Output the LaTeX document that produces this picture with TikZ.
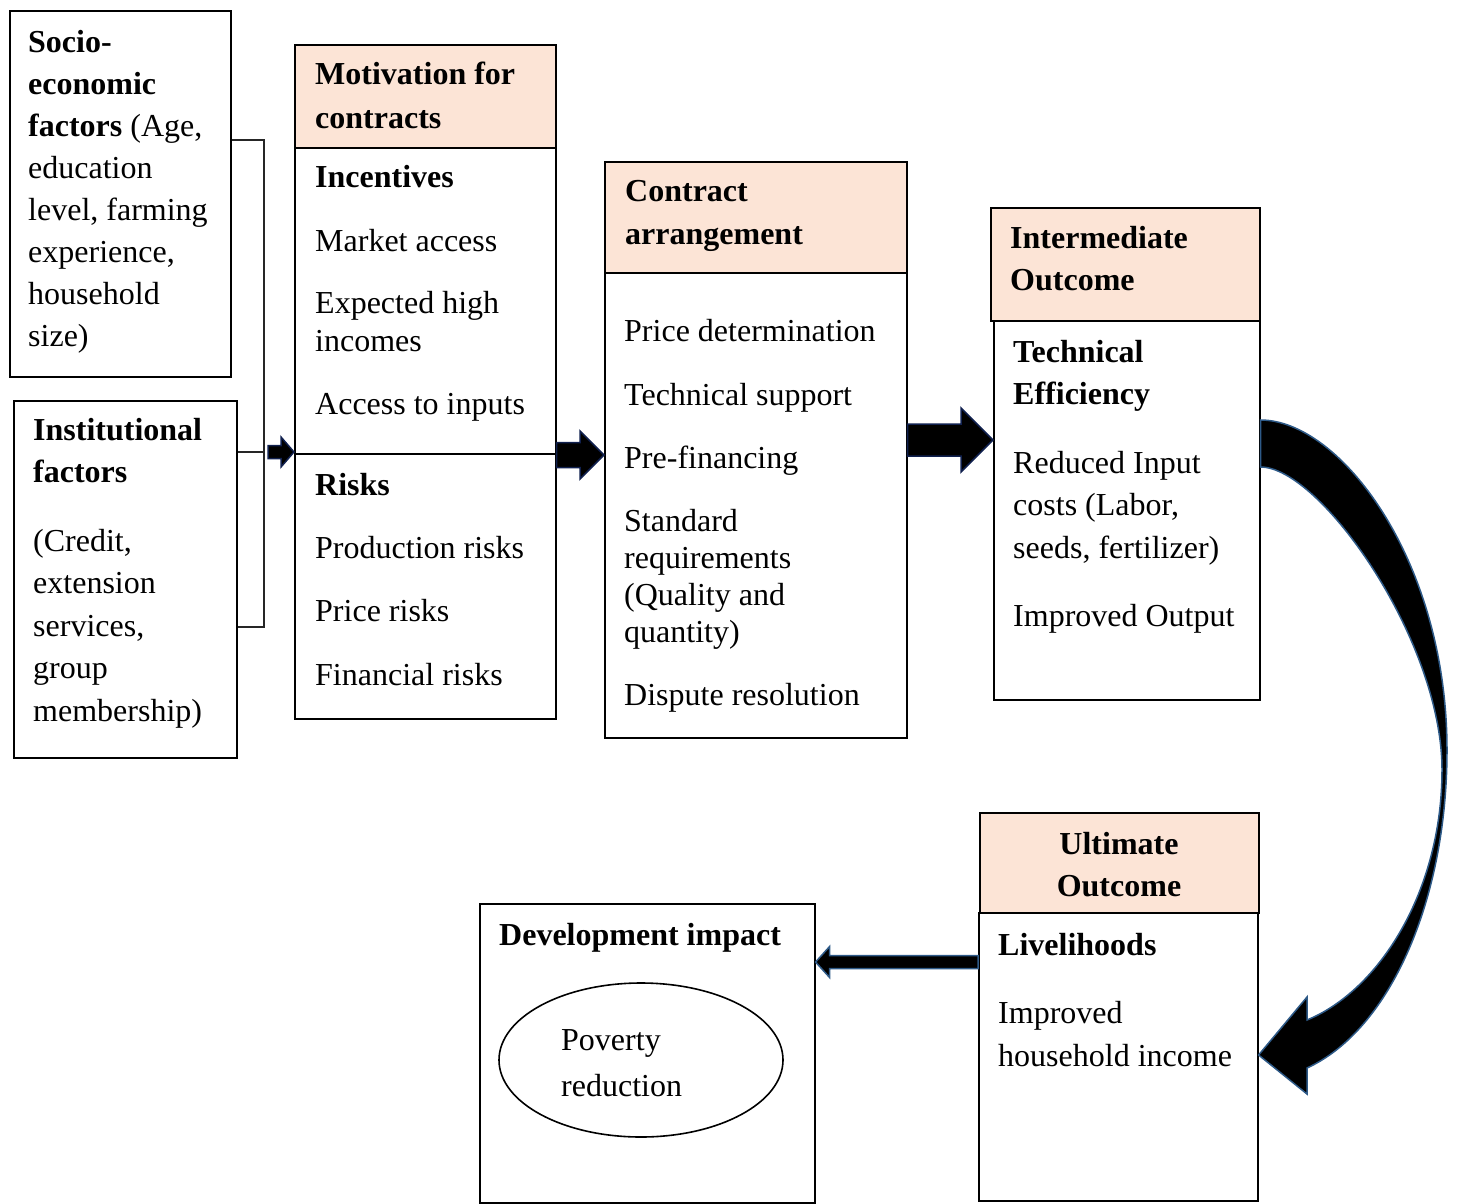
\documentclass[tikz,border=0pt]{standalone}
\usepackage{fontspec}
\setmainfont{Liberation Serif}
\usetikzlibrary{shapes.geometric,calc}
\definecolor{peach}{HTML}{FCE4D6}
\definecolor{navyo}{HTML}{10204E}
\definecolor{steel}{HTML}{2E5A88}
\newcommand\mystrut{\rule{0pt}{25pt}}
% block arrow: #1 start coord, #2 tip coord, #3 shaft half-height, #4 head half-height, #5 signed head length, #6 outline colour
\newcommand\barrow[6]{\filldraw[fill=black, draw=#6, line width=1.5pt, line join=miter] let \p1=(#1), \p2=(#2) in
 (\x1,{\y1+#3}) -- ({\x2-(#5)},{\y1+#3}) -- ({\x2-(#5)},{\y1+#4}) -- (\x2,\y1) -- ({\x2-(#5)},{\y1-#4}) -- ({\x2-(#5)},{\y1-#3}) -- (\x1,{\y1-#3}) -- cycle;}
\begin{document}
\begin{tikzpicture}[x=1pt,y=-1pt,
  box/.style={draw=black, line width=1.6pt, rectangle, inner sep=0pt, anchor=north west},
  head/.style={box, fill=peach},
  txt/.style={anchor=north west, inner sep=0pt, align=left, font=\fontsize{32}{#1}\selectfont},
  ctxt/.style={anchor=north, inner sep=0pt, align=center, font=\fontsize{32}{#1}\selectfont},
  brk/.style={draw=black!85, line width=1.3pt}]
\useasboundingbox (0,0) rectangle (1457,1203);

% boxes
\node[box, minimum width=221pt, minimum height=366pt] (soc) at (9,10) {};
\node[box, minimum width=223pt, minimum height=357pt] (inst) at (13,400) {};
\node[head, minimum width=261pt, minimum height=103pt] (moth) at (294,44) {};
\node[box, minimum width=261pt, minimum height=571pt] (motb) at (294,147) {};
\node[head, minimum width=302pt, minimum height=111pt] (conh) at (604,161) {};
\node[box, minimum width=302pt, minimum height=465pt] (conb) at (604,272) {};
\node[head, minimum width=269pt, minimum height=113pt] (inth) at (990,207) {};
\node[box, minimum width=266pt, minimum height=379pt] (intb) at (993,320) {};
\node[head, minimum width=279pt, minimum height=100pt] (ulth) at (979,812) {};
\node[box, minimum width=279pt, minimum height=288pt] (ultb) at (978,912) {};
\node[box, minimum width=335pt, minimum height=299pt] (devb) at (479,903) {};
\node[draw=black, line width=1.6pt, ellipse, inner sep=0pt, minimum width=284pt, minimum height=154pt] (pov) at (641,1060) {};

% divider in motivation box
\draw[line width=1.6pt] (motb.west |- 0,454) -- (motb.east |- 0,454);

% bracket
\coordinate (bt) at (264,140);
\coordinate (bj) at (264,452);
\coordinate (bb) at (264,627);
\draw[brk] (soc.east |- bt) -- (bt) -- (bb) -- (inst.east |- bb);
\draw[brk] (inst.east |- bj) -- (bj);

% texts
\node[txt=42] (soct) at (28,27) {\mystrut\textbf{Socio-}\\ \textbf{economic}\\ \textbf{factors} (Age,\\ education\\ level, farming\\ experience,\\ household\\ size)};
\node[txt=42.5] (instt) at (33,415) {\mystrut\textbf{Institutional}\\ \textbf{factors}\\[26pt] (Credit,\\ extension\\ services,\\ group\\ membership)};
\node[txt=44] (motht) at (315,59) {\mystrut\textbf{Motivation for}\\ \textbf{contracts}};
\node[txt=38] (motbt) at (315,162) {\mystrut\textbf{Incentives}\\[26pt] Market access\\[24pt] Expected high\\ incomes\\[25pt] Access to inputs\\[43pt] \textbf{Risks}\\[25pt] Production risks\\[25pt] Price risks\\[26pt] Financial risks};
\node[txt=43] (conht) at (625,176) {\mystrut\textbf{Contract}\\ \textbf{arrangement}};
\node[txt=37] (conbt) at (624,316) {\mystrut Price determination\\[27pt] Technical support\\[26pt] Pre-financing\\[26pt] Standard\\ requirements\\ (Quality and\\ quantity)\\[26pt] Dispute resolution};
\node[txt=42] (intht) at (1010,223) {\mystrut\textbf{Intermediate}\\ \textbf{Outcome}};
\node[txt=42.5] (intbt) at (1013,337) {\mystrut\textbf{Technical}\\ \textbf{Efficiency}\\[26pt] Reduced Input\\ costs (Labor,\\ seeds, fertilizer)\\[26pt] Improved Output};
\node[ctxt=42] (ultht) at (1119,829) {\mystrut\textbf{Ultimate}\\ \textbf{Outcome}};
\node[txt=43] (ultbt) at (998,930) {\mystrut\textbf{Livelihoods}\\[25pt] Improved\\ household income};
\node[txt=42] (devt) at (499,920) {\mystrut\textbf{Development impact}};
\node[txt=46] (povt) at (561,1025) {\mystrut Poverty\\ reduction};

% straight block arrows
\coordinate (a1) at (268,452);
\coordinate (a2) at (motb.west |- a1);
\barrow{a1}{a2}{6.5pt}{15pt}{13pt}{navyo}
\coordinate (b1) at (motb.east |- 0,455);
\coordinate (b2) at (conb.west |- b1);
\barrow{b1}{b2}{12.5pt}{24pt}{24pt}{navyo}
\coordinate (c1) at (conb.east |- 0,440);
\coordinate (c2) at (intb.west |- c1);
\barrow{c1}{c2}{16pt}{32pt}{32pt}{navyo}
\coordinate (d1) at (ultb.west |- 0,962);
\coordinate (d2) at (devb.east |- d1);
\barrow{d1}{d2}{6.5pt}{15.5pt}{-14pt}{steel}

% curved block arrow from intermediate to ultimate outcome
\coordinate (e1) at (intb.east |- 0,420);
\coordinate (e2) at (ultb.east |- 0,1055);
\filldraw[fill=black, draw=steel, line width=1.5pt, line join=miter]
  (e1) .. controls (1340,420) and (1447,560) .. (1447,750)
  .. controls (1447,900) and (1390,1030) .. (1307,1068)
  -- (1307,1094) -- (e2) -- (1307,997) -- (1307,1020)
  .. controls (1380,990) and (1442,890) .. (1442,770)
  .. controls (1442,640) and (1320,467) .. (intb.east |- 0,467) -- cycle;
\end{tikzpicture}
\end{document}
